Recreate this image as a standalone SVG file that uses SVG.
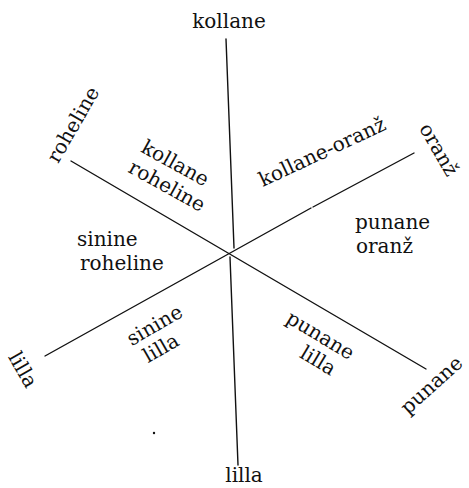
<svg xmlns="http://www.w3.org/2000/svg" width="469" height="488" viewBox="0 0 469 488">
<style>
.ln{stroke:#111;stroke-width:1.4;fill:none;stroke-linecap:round}
.t{font-family:"DejaVu Serif","Liberation Serif",serif;font-size:20px;fill:#111}
.m{text-anchor:middle}
</style>
<rect width="469" height="488" fill="#fff"/>
<g id="connectors">
<line class="ln" x1="226" y1="39" x2="234" y2="248"/>
<line class="ln" x1="230" y1="257" x2="238" y2="465"/>
<line class="ln" x1="71" y1="161" x2="426" y2="369"/>
<line class="ln" x1="414" y1="153" x2="313" y2="207"/>
<line class="ln" x1="311" y1="208" x2="45" y2="356"/>
</g>
<g id="kollane"><text class="t m" x="229" y="28">kollane</text></g>
<g id="lilla-bottom"><text class="t m" x="244" y="482">lilla</text></g>
<g id="roheline"><text class="t m" transform="translate(79,128) rotate(-60)">roheline</text></g>
<g id="oranz"><text class="t m" transform="translate(433,153) rotate(60)">oranž</text></g>
<g id="lilla-left"><text class="t m" transform="translate(17,373) rotate(60)">lilla</text></g>
<g id="punane"><text class="t m" transform="translate(436,390) rotate(-42)">punane</text></g>
<g id="kollane-roheline" transform="translate(168,176) rotate(29)">
<text class="t m" x="0" y="-8">kollane</text>
<text class="t m" x="4" y="16">roheline</text>
</g>
<g id="kollane-oranz"><text class="t m" transform="translate(325,158) rotate(-25)">kollane-oranž</text></g>
<g id="sinine-roheline">
<text class="t" x="77" y="246">sinine</text>
<text class="t" x="80" y="270">roheline</text>
</g>
<g id="punane-oranz">
<text class="t" x="355" y="229">punane</text>
<text class="t" x="356" y="253">oranž</text>
</g>
<g id="sinine-lilla" transform="translate(158,331) rotate(-30)">
<text class="t m" x="0" y="0">sinine</text>
<text class="t m" x="-6" y="23">lilla</text>
</g>
<g id="punane-lilla" transform="translate(317,341) rotate(31)">
<text class="t m" x="0" y="0">punane</text>
<text class="t m" x="11" y="23">lilla</text>
</g>
<circle cx="154" cy="433" r="1.2" fill="#111"/>
</svg>
